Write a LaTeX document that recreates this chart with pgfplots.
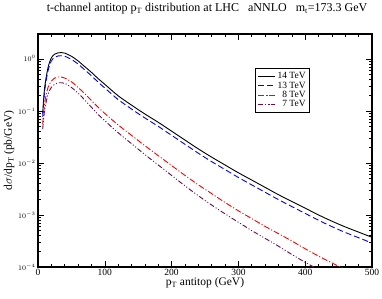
\documentclass[border=0pt]{standalone}
\usepackage{pgfplots}
\pgfplotsset{compat=1.18}
\usepackage{fontspec}
\setmainfont{Liberation Serif}
\definecolor{mymaroon}{RGB}{110,10,80}
\begin{document}
\begin{tikzpicture}
\begin{axis}[
  scale only axis,
  width=334pt, height=233pt,
  xmin=0, xmax=500,
  ymode=log, ymin=1e-4, ymax=3,
  xtick={0,100,200,300,400,500},
  minor x tick num=4,
  ytick={1e-4,1e-3,1e-2,1e-1,1},
  tick align=inside,
  major tick length=6pt,
  minor tick length=3pt,
  axis line style={line width=1.1pt},
  every tick/.style={black, line width=0.6pt},
  xtick pos=both, ytick pos=both,
  /pgf/number format/assume math mode=true,
  xticklabel style={font=\fontsize{9.5}{10}\selectfont, yshift=1pt},
  yticklabel style={font=\fontsize{7.5}{8}\selectfont, xshift=1pt},
  xlabel={p$_\mathrm{T}$ antitop (GeV)},
  xlabel style={font=\fontsize{11.5}{12}\selectfont, yshift=5pt},
  ylabel={d$\sigma$/dp$_\mathrm{T}$ (pb/GeV)},
  ylabel style={font=\fontsize{11.5}{12}\selectfont, yshift=-3pt},
  legend style={at={(rel axis cs:0.65,0.854)}, anchor=north west,
    draw=black, line width=1.1pt, font=\fontsize{9.5}{10}\selectfont,
    row sep=-2.5pt, inner sep=2pt, cells={anchor=east}},
  legend cell align=right,
  legend image post style={line width=0.9pt},
  clip=true,
]
\addplot[black, line width=0.9pt, smooth] coordinates {
(7,0.0891)(10,0.282)(15,0.676)(20,1.047)(25,1.230)(30,1.303)(35,1.318)(40,1.288)(50,1.122)(60,0.912)(70,0.708)(80,0.550)(90,0.417)(100,0.324)(120,0.195)(140,0.129)(160,0.0871)(180,0.0603)(200,0.0407)(220,0.0275)(240,0.0186)(260,0.0129)(280,0.00912)(300,0.00646)(320,0.00468)(340,0.00339)(360,0.00245)(380,0.00182)(400,0.00135)(420,0.00100)(440,0.000759)(460,0.000589)(480,0.000468)(500,0.000372)};
\addlegendentry{14 TeV}
\addplot[blue, line width=0.9pt, smooth, dash pattern=on 6pt off 3pt] coordinates {
(7,0.0776)(10,0.245)(15,0.589)(20,0.912)(25,1.072)(30,1.135)(35,1.148)(40,1.122)(50,0.977)(60,0.794)(70,0.614)(80,0.473)(90,0.357)(100,0.275)(120,0.165)(140,0.1086)(160,0.0731)(180,0.0504)(200,0.0339)(220,0.0228)(240,0.01535)(260,0.01057)(280,0.00745)(300,0.00525)(320,0.00378)(340,0.00273)(360,0.00197)(380,0.00145)(400,0.00107)(420,0.000791)(440,0.000597)(460,0.000461)(480,0.000365)(500,0.000288)};
\addlegendentry{13 TeV}
\addplot[red, line width=0.9pt, smooth, dash pattern=on 6pt off 2pt on 1pt off 2pt] coordinates {
(7,0.0562)(10,0.141)(15,0.282)(20,0.372)(25,0.427)(30,0.447)(35,0.447)(40,0.427)(50,0.363)(60,0.282)(70,0.214)(80,0.158)(90,0.1175)(100,0.0891)(120,0.0537)(140,0.0339)(160,0.0214)(180,0.0138)(200,0.00891)(220,0.00575)(240,0.00380)(260,0.00257)(280,0.00174)(300,0.00120)(320,0.000851)(340,0.000603)(360,0.000437)(380,0.000316)(400,0.000224)(420,0.000162)(440,0.000120)(460,0.0000891)};
\addlegendentry{8 TeV}
\addplot[mymaroon, line width=0.9pt, smooth, dash pattern=on 5pt off 2pt on 1pt off 2pt on 1pt off 2pt] coordinates {
(7,0.0447)(10,0.105)(15,0.209)(20,0.282)(25,0.324)(30,0.347)(35,0.347)(40,0.339)(50,0.282)(60,0.219)(70,0.162)(80,0.1175)(90,0.0851)(100,0.0646)(120,0.0380)(140,0.0234)(160,0.01445)(180,0.00912)(200,0.00575)(220,0.00363)(240,0.00234)(260,0.00155)(280,0.00105)(300,0.000724)(320,0.000501)(340,0.000355)(360,0.000251)(380,0.000174)(400,0.000123)(420,0.0000891)};
\addlegendentry{7 TeV}
\end{axis}
\node[anchor=base, font=\fontsize{12}{13}\selectfont] at (169pt,255pt)
  {t-channel antitop p$_\mathrm{T}$ distribution at LHC\hspace{0.75em}aNNLO\hspace{0.75em}m$_\mathrm{t}$=173.3 GeV};
\pgfresetboundingbox
\path (-38pt,-32pt) rectangle (344pt,267pt);
\end{tikzpicture}
\end{document}
